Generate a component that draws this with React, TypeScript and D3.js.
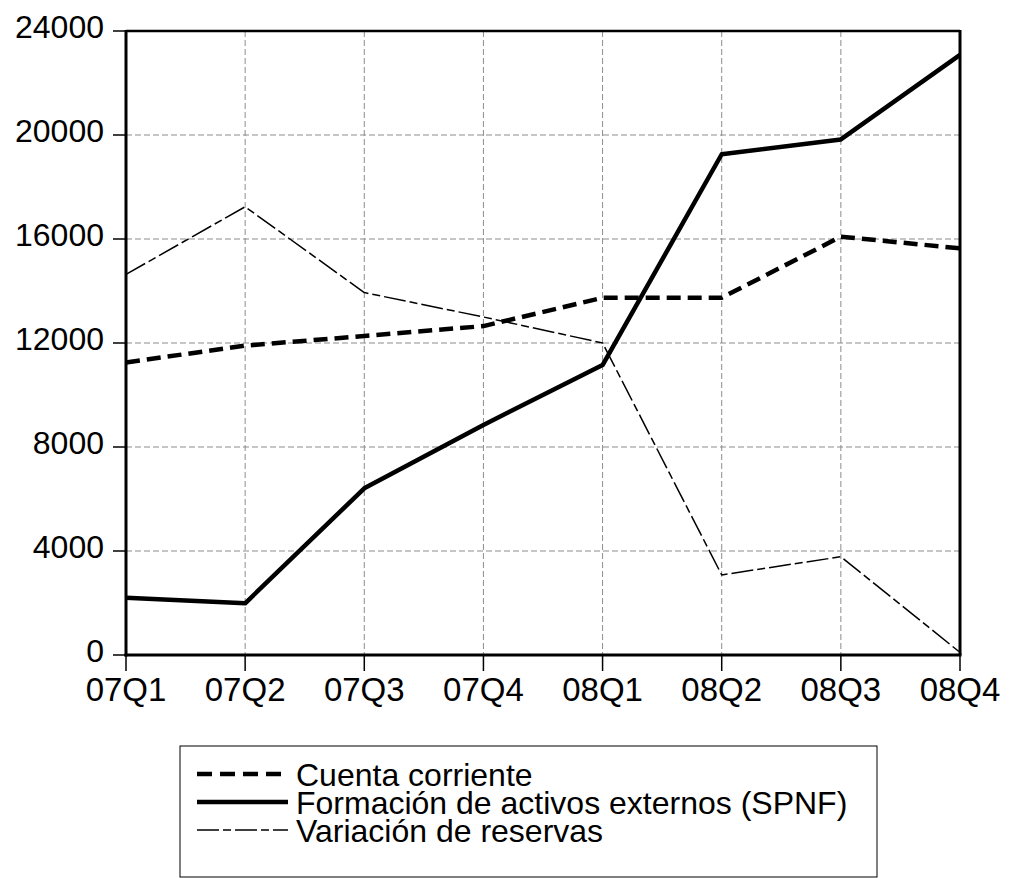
import React from "react";
import * as d3 from "d3";

const categories = ["07Q1", "07Q2", "07Q3", "07Q4", "08Q1", "08Q2", "08Q3", "08Q4"];
const cuentaCorriente = [11250, 11900, 12270, 12650, 13740, 13740, 16090, 15640];
const activosExternos = [2200, 1990, 6410, 8850, 11150, 19260, 19830, 23080];
const variacionReservas = [14640, 17240, 13940, 13000, 12000, 3080, 3780, 100];
const yTicks = [0, 4000, 8000, 12000, 16000, 20000, 24000];
const seriesNames = ["Cuenta corriente", "Formación de activos externos (SPNF)", "Variación de reservas"];

const W = 1015;
const H = 878;
const left = 126;
const right = 960;
const top = 31;
const bottom = 655;
const FONT = "'Liberation Sans', Arial, Helvetica, sans-serif";

const styles = [
  { width: 4.5, dash: "14 7", legendDash: "15 8" },
  { width: 4.5, dash: null, legendDash: null },
  { width: 1.5, dash: "22 4 8 4", legendDash: "22 4 8 4" },
];

export default function App() {
  const x = d3.scalePoint<string>().domain(categories).range([left, right]);
  const y = d3.scaleLinear().domain([0, 24000]).range([bottom, top]);
  const line = d3
    .line<number>()
    .x((_, i) => x(categories[i]) as number)
    .y((d) => y(d));
  const series = [cuentaCorriente, activosExternos, variacionReservas];

  const legX = 180;
  const legY = 746;
  const legW = 697;
  const legH = 131;
  const rowY = [774, 802, 830];

  return (
    <svg
      width={W}
      height={H}
      style={{ position: "absolute", left: 0, top: 0, display: "block", background: "#fff" }}
      fontFamily={FONT}
    >
      <rect x={0} y={0} width={W} height={H} fill="#fff" />
      {yTicks
        .filter((t) => t > 0 && t < 24000)
        .map((t) => (
          <line key={"hg" + t} x1={left} x2={right} y1={y(t)} y2={y(t)} stroke="#8c8c8c" strokeWidth={1} strokeDasharray="6 3" />
        ))}
      {categories.slice(1, -1).map((c) => (
        <line key={"vg" + c} x1={x(c)} x2={x(c)} y1={top} y2={bottom} stroke="#8c8c8c" strokeWidth={1} strokeDasharray="6 3" />
      ))}
      {series.map((s, i) => (
        <path
          key={"s" + i}
          d={line(s) as string}
          fill="none"
          stroke="#000"
          strokeWidth={styles[i].width}
          strokeDasharray={styles[i].dash ?? undefined}
          strokeLinejoin="round"
        />
      ))}
      <line x1={left} x2={right} y1={top} y2={top} stroke="#000" strokeWidth={2.5} />
      <line x1={right} x2={right} y1={top - 1} y2={bottom} stroke="#000" strokeWidth={3} />
      <line x1={left} x2={left} y1={top - 1} y2={bottom + 1.5} stroke="#000" strokeWidth={3} />
      <line x1={left - 1.5} x2={right + 1.5} y1={bottom} y2={bottom} stroke="#000" strokeWidth={3} />
      {yTicks.map((t) => (
        <g key={"yt" + t}>
          <line x1={113} x2={left} y1={y(t)} y2={y(t)} stroke="#000" strokeWidth={1.5} />
          <text x={104} y={y(t) - 4} textAnchor="end" dominantBaseline="central" fontSize={32} fill="#000">
            {t}
          </text>
        </g>
      ))}
      {categories.map((c) => (
        <g key={"xt" + c}>
          <line x1={x(c)} x2={x(c)} y1={bottom} y2={671} stroke="#000" strokeWidth={1.5} />
          <text x={x(c)} y={701} textAnchor="middle" fontSize={33} fill="#000">
            {c}
          </text>
        </g>
      ))}
      <rect x={legX} y={legY} width={legW} height={legH} fill="#fff" stroke="#000" strokeWidth={1} />
      {seriesNames.map((n, i) => (
        <g key={"lg" + i}>
          <line
            x1={197}
            x2={288}
            y1={rowY[i]}
            y2={rowY[i]}
            stroke="#000"
            strokeWidth={styles[i].width}
            strokeDasharray={styles[i].legendDash ?? undefined}
          />
          <text x={296} y={rowY[i] + 1} dominantBaseline="central" fontSize={32} fill="#000">
            {n}
          </text>
        </g>
      ))}
    </svg>
  );
}
